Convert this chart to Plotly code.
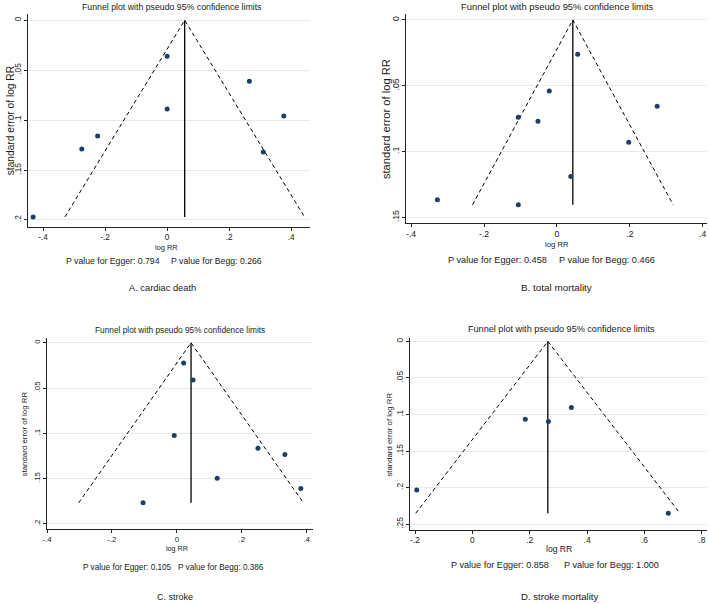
import plotly.graph_objects as go

W, H = 709, 604

# ---------------- data ----------------
a_logrr = [-0.432, -0.275, -0.224, 0.000, 0.000, 0.265, 0.376, 0.310]
a_se    = [0.197, 0.129, 0.116, 0.036, 0.089, 0.061, 0.096, 0.132]
a_theta = 0.0566
a_p_egger, a_p_begg = "0.794", "0.266"

b_logrr = [0.057, -0.021, -0.106, -0.052, 0.275, 0.197, 0.038, -0.328, -0.106]
b_se    = [0.026, 0.054, 0.074, 0.077, 0.0655, 0.093, 0.119, 0.1366, 0.1404]
b_theta = 0.0436
b_p_egger, b_p_begg = "0.458", "0.466"

c_logrr = [0.021, 0.050, -0.008, 0.250, 0.333, 0.1245, 0.382, -0.104]
c_se    = [0.0224, 0.041, 0.1025, 0.1164, 0.1234, 0.1494, 0.1608, 0.1766]
c_theta = 0.0438
c_p_egger, c_p_begg = "0.105", "0.386"

d_logrr = [-0.194, 0.1845, 0.265, 0.345, 0.683]
d_se    = [0.2033, 0.1064, 0.1096, 0.0905, 0.235]
d_theta = 0.263
d_p_egger, d_p_begg = "0.858", "1.000"

x_ticks_abc = [-0.4, -0.2, 0, 0.2, 0.4]
x_ticktext_abc = ["-.4", "-.2", "0", ".2", ".4"]
x_ticks_d = [-0.2, 0, 0.2, 0.4, 0.6, 0.8]
x_ticktext_d = ["-.2", "0", ".2", ".4", ".6", ".8"]
y_ticks_a = [0, 0.05, 0.1, 0.15, 0.2]
y_ticktext_a = ["0", ".05", ".1", ".15", ".2"]
y_ticks_b = [0, 0.05, 0.1, 0.15]
y_ticktext_b = ["0", ".05", ".1", ".15"]
y_ticks_d = [0, 0.05, 0.1, 0.15, 0.2, 0.25]
y_ticktext_d = ["0", ".05", ".1", ".15", ".2", ".25"]

labels = ["A. cardiac death", "B. total mortality", "C. stroke", "D. stroke mortality"]
title_txt = "Funnel plot with pseudo 95% confidence limits"

# ---------------- layout geometry (pixels) ----------------
panels = [
    dict(x=a_logrr, y=a_se, theta=a_theta, pe=a_p_egger, pb=a_p_begg, label=labels[0],
         px=(23.3, 306.7), py=(13, 226), xr=(-0.448, 0.459), yr=(0.2067, -0.0063),
         xt=(x_ticks_abc, x_ticktext_abc), yt=(y_ticks_a, y_ticktext_a),
         title_xy=(168, 6), ytitle_x=5, xtitle=(163, 247), p_y=260, pe_x=109, pb_x=213,
         lab_xy=(159, 287),
         fs=dict(title=8.75, p=8.7, lab=9.3, ytitle=10.2, tick=8.3, xtitle=7.4)),
    dict(x=b_logrr, y=b_se, theta=b_theta, pe=b_p_egger, pb=b_p_begg, label=labels[1],
         px=(404, 706.7), py=(13.3, 222.7), xr=(-0.4137, 0.411), yr=(0.1545, -0.0043),
         xt=(x_ticks_abc, x_ticktext_abc), yt=(y_ticks_b, y_ticktext_b),
         title_xy=(556, 5.5), ytitle_x=384, xtitle=(556, 243.5), p_y=259, pe_x=496, pb_x=606.5,
         lab_xy=(555.7, 287),
         fs=dict(title=9.4, p=9.2, lab=9.9, ytitle=11.2, tick=8.6, xtitle=7.7)),
    dict(x=c_logrr, y=c_se, theta=c_theta, pe=c_p_egger, pb=c_p_begg, label=labels[2],
         px=(42.3, 310), py=(337.3, 529.3), xr=(-0.4, 0.419), yr=(0.206, -0.0055),
         xt=(x_ticks_abc, x_ticktext_abc), yt=(y_ticks_a, y_ticktext_a),
         title_xy=(176, 329.3), ytitle_x=20, xtitle=(173, 548.5), p_y=567.7, pe_x=123, pb_x=217.5,
         lab_xy=(171.7, 596.7),
         fs=dict(title=8.3, p=8.2, lab=9.0, ytitle=7.9, tick=7.9, xtitle=7.2)),
    dict(x=d_logrr, y=d_se, theta=d_theta, pe=d_p_egger, pb=d_p_begg, label=labels[3],
         px=(408.3, 707.3), py=(338, 530), xr=(-0.216, 0.819), yr=(0.258, -0.004),
         xt=(x_ticks_d, x_ticktext_d), yt=(y_ticks_d, y_ticktext_d),
         title_xy=(560.7, 328.7), ytitle_x=387, xtitle=(558, 549), p_y=565.3, pe_x=498.5, pb_x=611,
         lab_xy=(559.3, 596),
         fs=dict(title=9.1, p=9.1, lab=9.6, ytitle=7.8, tick=8.4, xtitle=8.6)),
]

FONT = "Liberation Sans"
TXT = "#1a1a1a"
GRID = "#e3ebf0"
AXIS = "#222222"
DOT = "#1d3f66"

fig = go.Figure()
annotations = []
layout = dict(width=W, height=H, margin=dict(l=0, r=0, t=0, b=0),
              paper_bgcolor="white", plot_bgcolor="white", showlegend=False,
              font=dict(family=FONT, size=8, color=TXT))


def fx(px):
    return px / W


def fy(py):
    return 1 - py / H


def ann(text, x, y, size, angle=0):
    annotations.append(dict(text=text, x=fx(x), y=fy(y), xref="paper", yref="paper",
                            xanchor="center", yanchor="middle", showarrow=False,
                            textangle=angle, font=dict(size=size, color=TXT, family=FONT)))


for i, p in enumerate(panels, start=1):
    xa = "x" if i == 1 else f"x{i}"
    ya = "y" if i == 1 else f"y{i}"
    semax = max(p["y"])
    th = p["theta"]
    fs = p["fs"]
    # pseudo 95% confidence limits
    fig.add_trace(go.Scatter(
        x=[th - 1.96 * semax, th, th + 1.96 * semax], y=[semax, 0, semax],
        mode="lines", line=dict(color="black", width=1, dash="4px,3px"),
        xaxis=xa, yaxis=ya, hoverinfo="skip"))
    # pooled estimate line
    fig.add_trace(go.Scatter(
        x=[th, th], y=[0, semax], mode="lines",
        line=dict(color="black", width=1.3), xaxis=xa, yaxis=ya, hoverinfo="skip"))
    # studies
    fig.add_trace(go.Scatter(
        x=p["x"], y=p["y"], mode="markers",
        marker=dict(color=DOT, size=5), xaxis=xa, yaxis=ya))

    xkey = "xaxis" if i == 1 else f"xaxis{i}"
    ykey = "yaxis" if i == 1 else f"yaxis{i}"
    layout[xkey] = dict(
        domain=[fx(p["px"][0]), fx(p["px"][1])], anchor=ya, range=list(p["xr"]),
        tickvals=p["xt"][0], ticktext=p["xt"][1], ticks="outside", ticklen=3,
        ticklabelstandoff=-1,
        tickcolor=AXIS, showline=True, linecolor=AXIS, linewidth=1,
        showgrid=False, zeroline=False, tickfont=dict(size=fs["tick"], color=TXT))
    layout[ykey] = dict(
        domain=[fy(p["py"][1]), fy(p["py"][0])], anchor=xa, range=list(p["yr"]),
        tickvals=p["yt"][0], ticktext=p["yt"][1], ticks="outside", ticklen=3,
        tickcolor=AXIS, showline=True, linecolor=AXIS, linewidth=1,
        showgrid=True, gridcolor=GRID, gridwidth=1, zeroline=False,
        tickangle=-90, tickfont=dict(size=fs["tick"], color=TXT))

    ann(title_txt, p["title_xy"][0], p["title_xy"][1], fs["title"])
    ann("standard error of log RR", p["ytitle_x"], (p["py"][0] + p["py"][1]) / 2, fs["ytitle"], -90)
    ann("log RR", p["xtitle"][0], p["xtitle"][1], fs["xtitle"])
    ann("P value for Egger: " + p["pe"], p["pe_x"], p["p_y"], fs["p"])
    ann("P value for Begg: " + p["pb"], p["pb_x"], p["p_y"], fs["p"])
    ann(p["label"], p["lab_xy"][0], p["lab_xy"][1], fs["lab"])

layout["annotations"] = annotations
fig.update_layout(**layout)
fig.write_html("out.html", config={"displayModeBar": False},
               post_script="document.body.style.margin='0';document.body.style.padding='0';")
